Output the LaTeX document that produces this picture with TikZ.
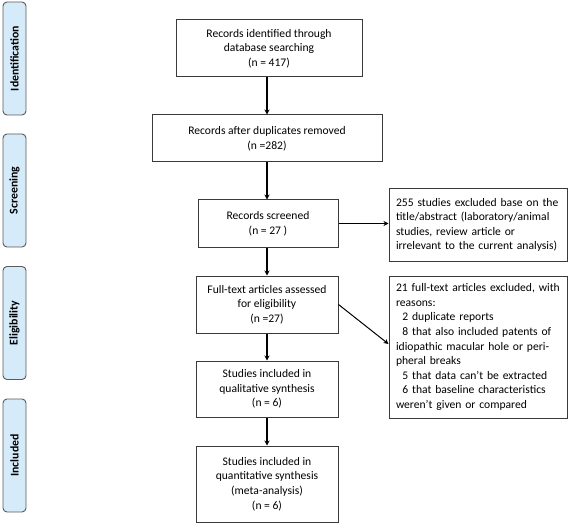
\documentclass[tikz,border=0pt]{standalone}
\usepackage{fontspec}
\setmainfont{Carlito}
\usetikzlibrary{arrows.meta}
\definecolor{stagefill}{HTML}{D6EBFA}
\definecolor{stageline}{HTML}{5A5A5A}
\definecolor{boxline}{HTML}{3A3A3A}
\tikzset{
  box/.style={draw=boxline, line width=1pt, align=center, inner sep=2pt,
    font=\fontsize{11.6}{14.6}\selectfont},
  exclbox/.style={box, align=left, text width=164pt, inner sep=0pt},
  stage/.style={draw=stageline, fill=stagefill, line width=0.9pt, rounded corners=4pt,
    minimum width=23pt, minimum height=113pt, inner sep=0pt,
    font=\fontsize{11.8}{12}\selectfont\bfseries},
  flow/.style={line width=1.3pt, -{Stealth[length=5pt,width=5pt]}}
}
\newcommand{\ind}{\hspace*{0.55em}}
\begin{document}
\begin{tikzpicture}[x=1pt, y=-1pt]
  \useasboundingbox (0,0) rectangle (568,524);
  % stages
  \node[stage] (ident) at (14.5,58.5) {\rotatebox{90}{Identification}};
  \node[stage] (screen) at (14.5,190.5) {\rotatebox{90}{Screening}};
  \node[stage] (elig) at (14.5,323) {\rotatebox{90}{Eligibility}};
  \node[stage] (incl) at (14.5,455.5) {\rotatebox{90}{Included}};
  % main flow
  \node[box, minimum width=186pt, minimum height=57pt] (found) at (269,48.5)
    {Records identified through\\database searching\\(n = 417)};
  \node[box, minimum width=230pt, minimum height=47pt] (dedup) at (267,138.5)
    {Records after duplicates removed\\(n =282)};
  \node[box, minimum width=140pt, minimum height=47pt] (screened) at (268,223.5)
    {Records screened\\(n = 27 )};
  \node[box, minimum width=142pt, minimum height=57pt] (fulltext) at (267,304.5)
    {Full-text articles assessed\\for eligibility\\(n =27)};
  \node[box, minimum width=142pt, minimum height=56pt] (qual) at (267,389)
    {Studies included in\\qualitative synthesis\\(n = 6)};
  \node[box, minimum width=142pt, minimum height=76pt] (quant) at (267,484)
    {Studies included in\\quantitative synthesis\\(meta-analysis)\\(n = 6)};
  % exclusions
  \node[exclbox, minimum width=178pt, minimum height=72pt] (excl1) at (478,225)
    {255 studies excluded base on the\\title/abstract (laboratory/animal\\studies, review article or\\irrelevant to the current analysis)};
  \node[exclbox, minimum width=178pt, minimum height=142pt] (excl2) at (478,347)
    {21 full-text articles excluded, with\\reasons:\\
     \ind 2 duplicate reports\\
     \ind 8 that also included patents of\\idiopathic macular hole or peri-\\pheral breaks\\
     \ind 5 that data can’t be extracted\\
     \ind 6 that baseline characteristics\\weren’t given or compared};
  % connectors
  \draw[flow] (found.south -| dedup.north) -- (dedup.north);
  \draw[flow] (dedup.south) -- (dedup.south |- screened.north);
  \draw[flow] (screened.south -| fulltext.north) -- (fulltext.north);
  \draw[flow] (fulltext.south) -- (fulltext.south |- qual.north);
  \draw[flow] (qual.south) -- (quant.north);
  \draw[flow] (screened.east) -- (screened.east -| excl1.west);
  \draw[flow, line width=1pt] (fulltext.east) -- ([yshift=3pt]excl2.west);
\end{tikzpicture}
\end{document}
